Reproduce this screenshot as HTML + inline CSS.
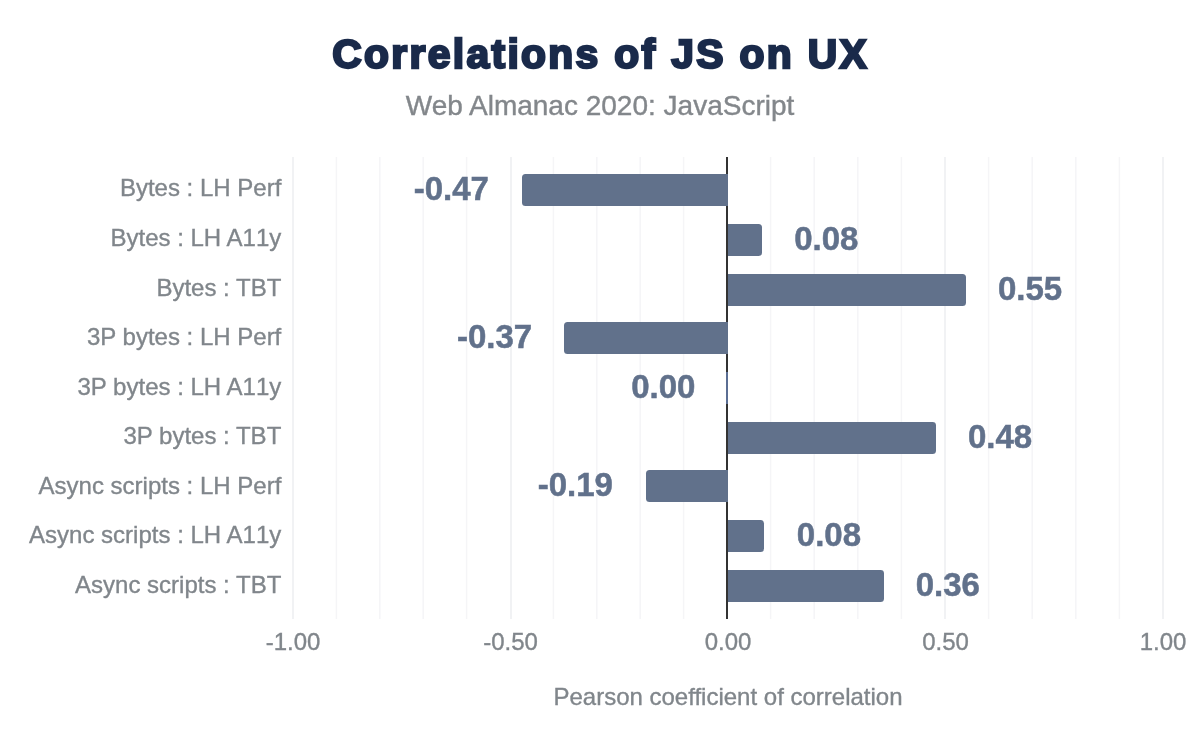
<!DOCTYPE html>
<html lang="en">
<head>
<meta charset="utf-8">
<title>Correlations of JS on UX</title>
<style>
html,body{margin:0;padding:0;background:#fff;}
body{width:1200px;height:742px;overflow:hidden;}
svg{display:block;}
.t{font-family:"Liberation Sans",Arial,sans-serif;}
.title{font-weight:700;font-size:40px;fill:#1a2a4a;stroke:#1a2a4a;stroke-width:2.4px;letter-spacing:2.3px;stroke-linejoin:miter;}
.sub{font-size:28px;fill:#83878b;stroke:#83878b;stroke-width:0.4px;}
.ax{font-size:24px;fill:#80868b;stroke:#80868b;stroke-width:0.35px;}
.dl{font-weight:700;font-size:33px;fill:#61718b;stroke:#61718b;stroke-width:0.5px;}
</style>
</head>
<body>
<svg width="1200" height="742" viewBox="0 0 1200 742">
<rect x="0" y="0" width="1200" height="742" fill="#ffffff"/>

<g fill="#f5f5f7">
<rect x="335.65" y="157" width="1.5" height="462"/>
<rect x="379.05" y="157" width="1.5" height="462"/>
<rect x="422.45" y="157" width="1.5" height="462"/>
<rect x="465.85" y="157" width="1.5" height="462"/>
<rect x="552.65" y="157" width="1.5" height="462"/>
<rect x="596.05" y="157" width="1.5" height="462"/>
<rect x="639.45" y="157" width="1.5" height="462"/>
<rect x="682.85" y="157" width="1.5" height="462"/>
<rect x="769.85" y="157" width="1.5" height="462"/>
<rect x="813.45" y="157" width="1.5" height="462"/>
<rect x="857.05" y="157" width="1.5" height="462"/>
<rect x="900.65" y="157" width="1.5" height="462"/>
<rect x="987.85" y="157" width="1.5" height="462"/>
<rect x="1031.45" y="157" width="1.5" height="462"/>
<rect x="1075.05" y="157" width="1.5" height="462"/>
<rect x="1118.65" y="157" width="1.5" height="462"/>
</g>
<g fill="#f1f2f4">
<rect x="292" y="157" width="2" height="462"/>
<rect x="510" y="157" width="2" height="462"/>
<rect x="944" y="157" width="2" height="462"/>
<rect x="1162" y="157" width="2" height="462"/>
</g>
<rect x="726" y="157" width="2" height="462" fill="#333333"/>
<g fill="#61718b">
<path d="M728 174V206H525.5A3.5 3.5 0 0 1 522 202.5V177.5A3.5 3.5 0 0 1 525.5 174Z"/>
<path d="M728 224H758.5A3.5 3.5 0 0 1 762 227.5V252.5A3.5 3.5 0 0 1 758.5 256H728Z"/>
<path d="M728 274H962.5A3.5 3.5 0 0 1 966 277.5V302.5A3.5 3.5 0 0 1 962.5 306H728Z"/>
<path d="M728 322V354H567.5A3.5 3.5 0 0 1 564 350.5V325.5A3.5 3.5 0 0 1 567.5 322Z"/>
<rect x="726" y="372" width="2" height="32" fill="#5b6e93"/>
<path d="M728 422H932.5A3.5 3.5 0 0 1 936 425.5V450.5A3.5 3.5 0 0 1 932.5 454H728Z"/>
<path d="M728 470V502H649.5A3.5 3.5 0 0 1 646 498.5V473.5A3.5 3.5 0 0 1 649.5 470Z"/>
<path d="M728 520H760.5A3.5 3.5 0 0 1 764 523.5V548.5A3.5 3.5 0 0 1 760.5 552H728Z"/>
<path d="M728 570H880.5A3.5 3.5 0 0 1 884 573.5V598.5A3.5 3.5 0 0 1 880.5 602H728Z"/>
</g>
<g class="t dl" text-anchor="middle">
<text x="451.30" y="200.3">-0.47</text>
<text x="826.25" y="250.3">0.08</text>
<text x="1030.00" y="300.3">0.55</text>
<text x="494.50" y="348.3">-0.37</text>
<text x="663.25" y="398.3">0.00</text>
<text x="1000.10" y="448.3">0.48</text>
<text x="575.25" y="496.3">-0.19</text>
<text x="828.90" y="546.3">0.08</text>
<text x="947.80" y="596.3">0.36</text>
</g>
<g class="t ax" text-anchor="end">
<text x="281.3" y="196.40">Bytes : LH Perf</text>
<text x="281.3" y="245.95" dx="0 0 0 0 0 0 0 0 0 0 0 0 0 1.8">Bytes : LH A11y</text>
<text x="281.3" y="295.50">Bytes : TBT</text>
<text x="281.3" y="345.05">3P bytes : LH Perf</text>
<text x="281.3" y="394.60" dx="0 0 0 0 0 0 0 0 0 0 0 0 0 0 0 0 1.8">3P bytes : LH A11y</text>
<text x="281.3" y="444.15">3P bytes : TBT</text>
<text x="281.3" y="493.70">Async scripts : LH Perf</text>
<text x="281.3" y="543.25" dx="0 0 0 0 0 0 0 0 0 0 0 0 0 0 0 0 0 0 0 0 0 1.8">Async scripts : LH A11y</text>
<text x="281.3" y="592.80">Async scripts : TBT</text>
</g>
<g class="t ax" text-anchor="middle">
<text x="293.0" y="650">-1.00</text>
<text x="510.5" y="650">-0.50</text>
<text x="728.0" y="650">0.00</text>
<text x="945.5" y="650">0.50</text>
<text x="1163.0" y="650">1.00</text>
<text x="728" y="704.7">Pearson coefficient of correlation</text>
</g>
<g transform="translate(600.6 68.3) scale(1.02 1)"><text class="t title" x="0" y="0" text-anchor="middle">Correlations of JS on UX</text></g>
<text class="t sub" x="600" y="114.5" text-anchor="middle">Web Almanac 2020: JavaScript</text>
</svg>
</body>
</html>
